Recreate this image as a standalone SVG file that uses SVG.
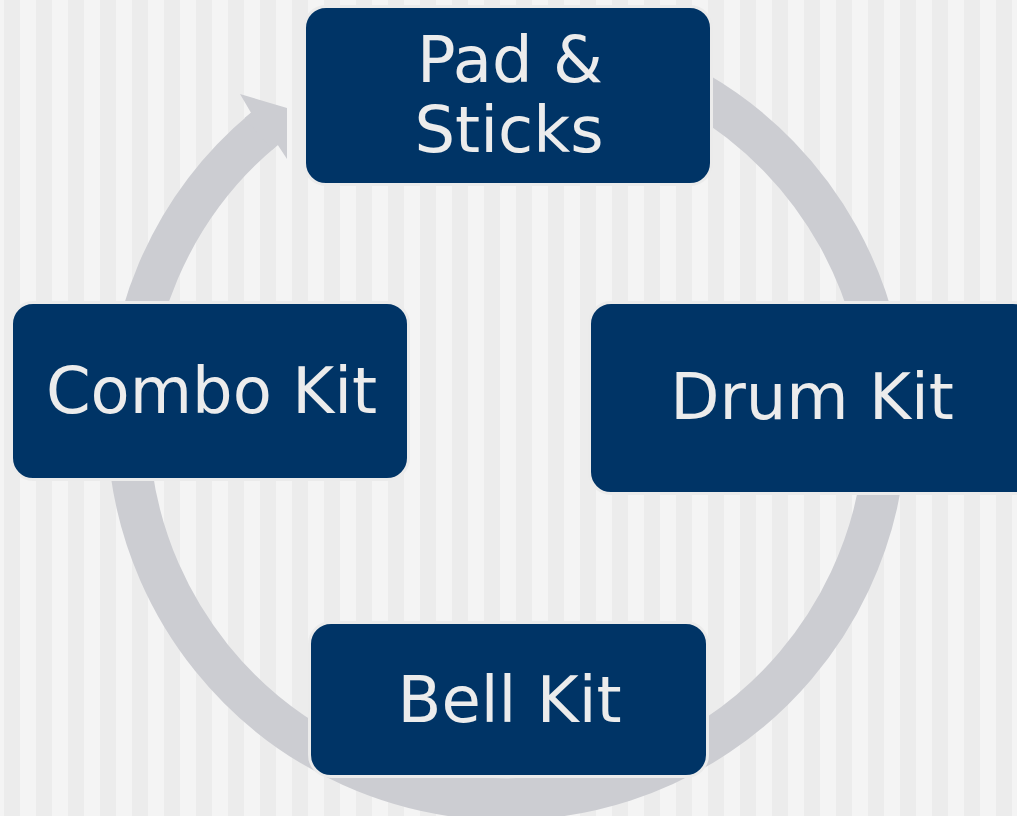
<svg xmlns="http://www.w3.org/2000/svg" width="1017" height="816" viewBox="0 0 1017 816">
  <defs>
    <pattern id="stripes" x="0" y="0" width="32" height="816" patternUnits="userSpaceOnUse">
      <rect x="0" y="0" width="32" height="816" fill="#f4f4f4"/>
      <rect x="4" y="0" width="16" height="816" fill="#ececec"/>
    </pattern>
  </defs>
  <style>
    .node { fill: #003466; stroke: #ebebeb; stroke-width: 3; }
    .label { font-family: "DejaVu Sans", Verdana, sans-serif; font-size: 64px; fill: #ececec; text-anchor: middle; }
    .ring { fill: none; stroke: #cccdd2; stroke-width: 42; }
    .head { fill: #cccdd2; }
  </style>
  <rect x="0" y="0" width="1017" height="816" fill="url(#stripes)"/>
  <g id="connectors">
    <path class="ring" d="M 329.1 85.4 A 379 379 0 1 1 264.4 128.8"/>
    <polygon class="head" points="244.6,118.1 251,112.7 240,94 287,108 287,159 277.8,144.9 272.1,149.8"/>
  </g>
  <g id="node-pad">
    <rect class="node" x="304.5" y="6.5" width="407" height="178" rx="21.5"/>
    <text class="label" x="510" y="82">Pad &amp;</text>
    <text class="label" x="509" y="152">Sticks</text>
  </g>
  <g id="node-drum">
    <rect class="node" x="589.5" y="302.5" width="445" height="191" rx="21.5"/>
    <text class="label" x="812" y="419">Drum Kit</text>
  </g>
  <g id="node-bell">
    <rect class="node" x="309.5" y="622.5" width="398" height="154" rx="21.5"/>
    <text class="label" x="509.5" y="722">Bell Kit</text>
  </g>
  <g id="node-combo">
    <rect class="node" x="11.5" y="302.5" width="397" height="177" rx="21.5"/>
    <text class="label" x="211.5" y="413">Combo Kit</text>
  </g>
</svg>
